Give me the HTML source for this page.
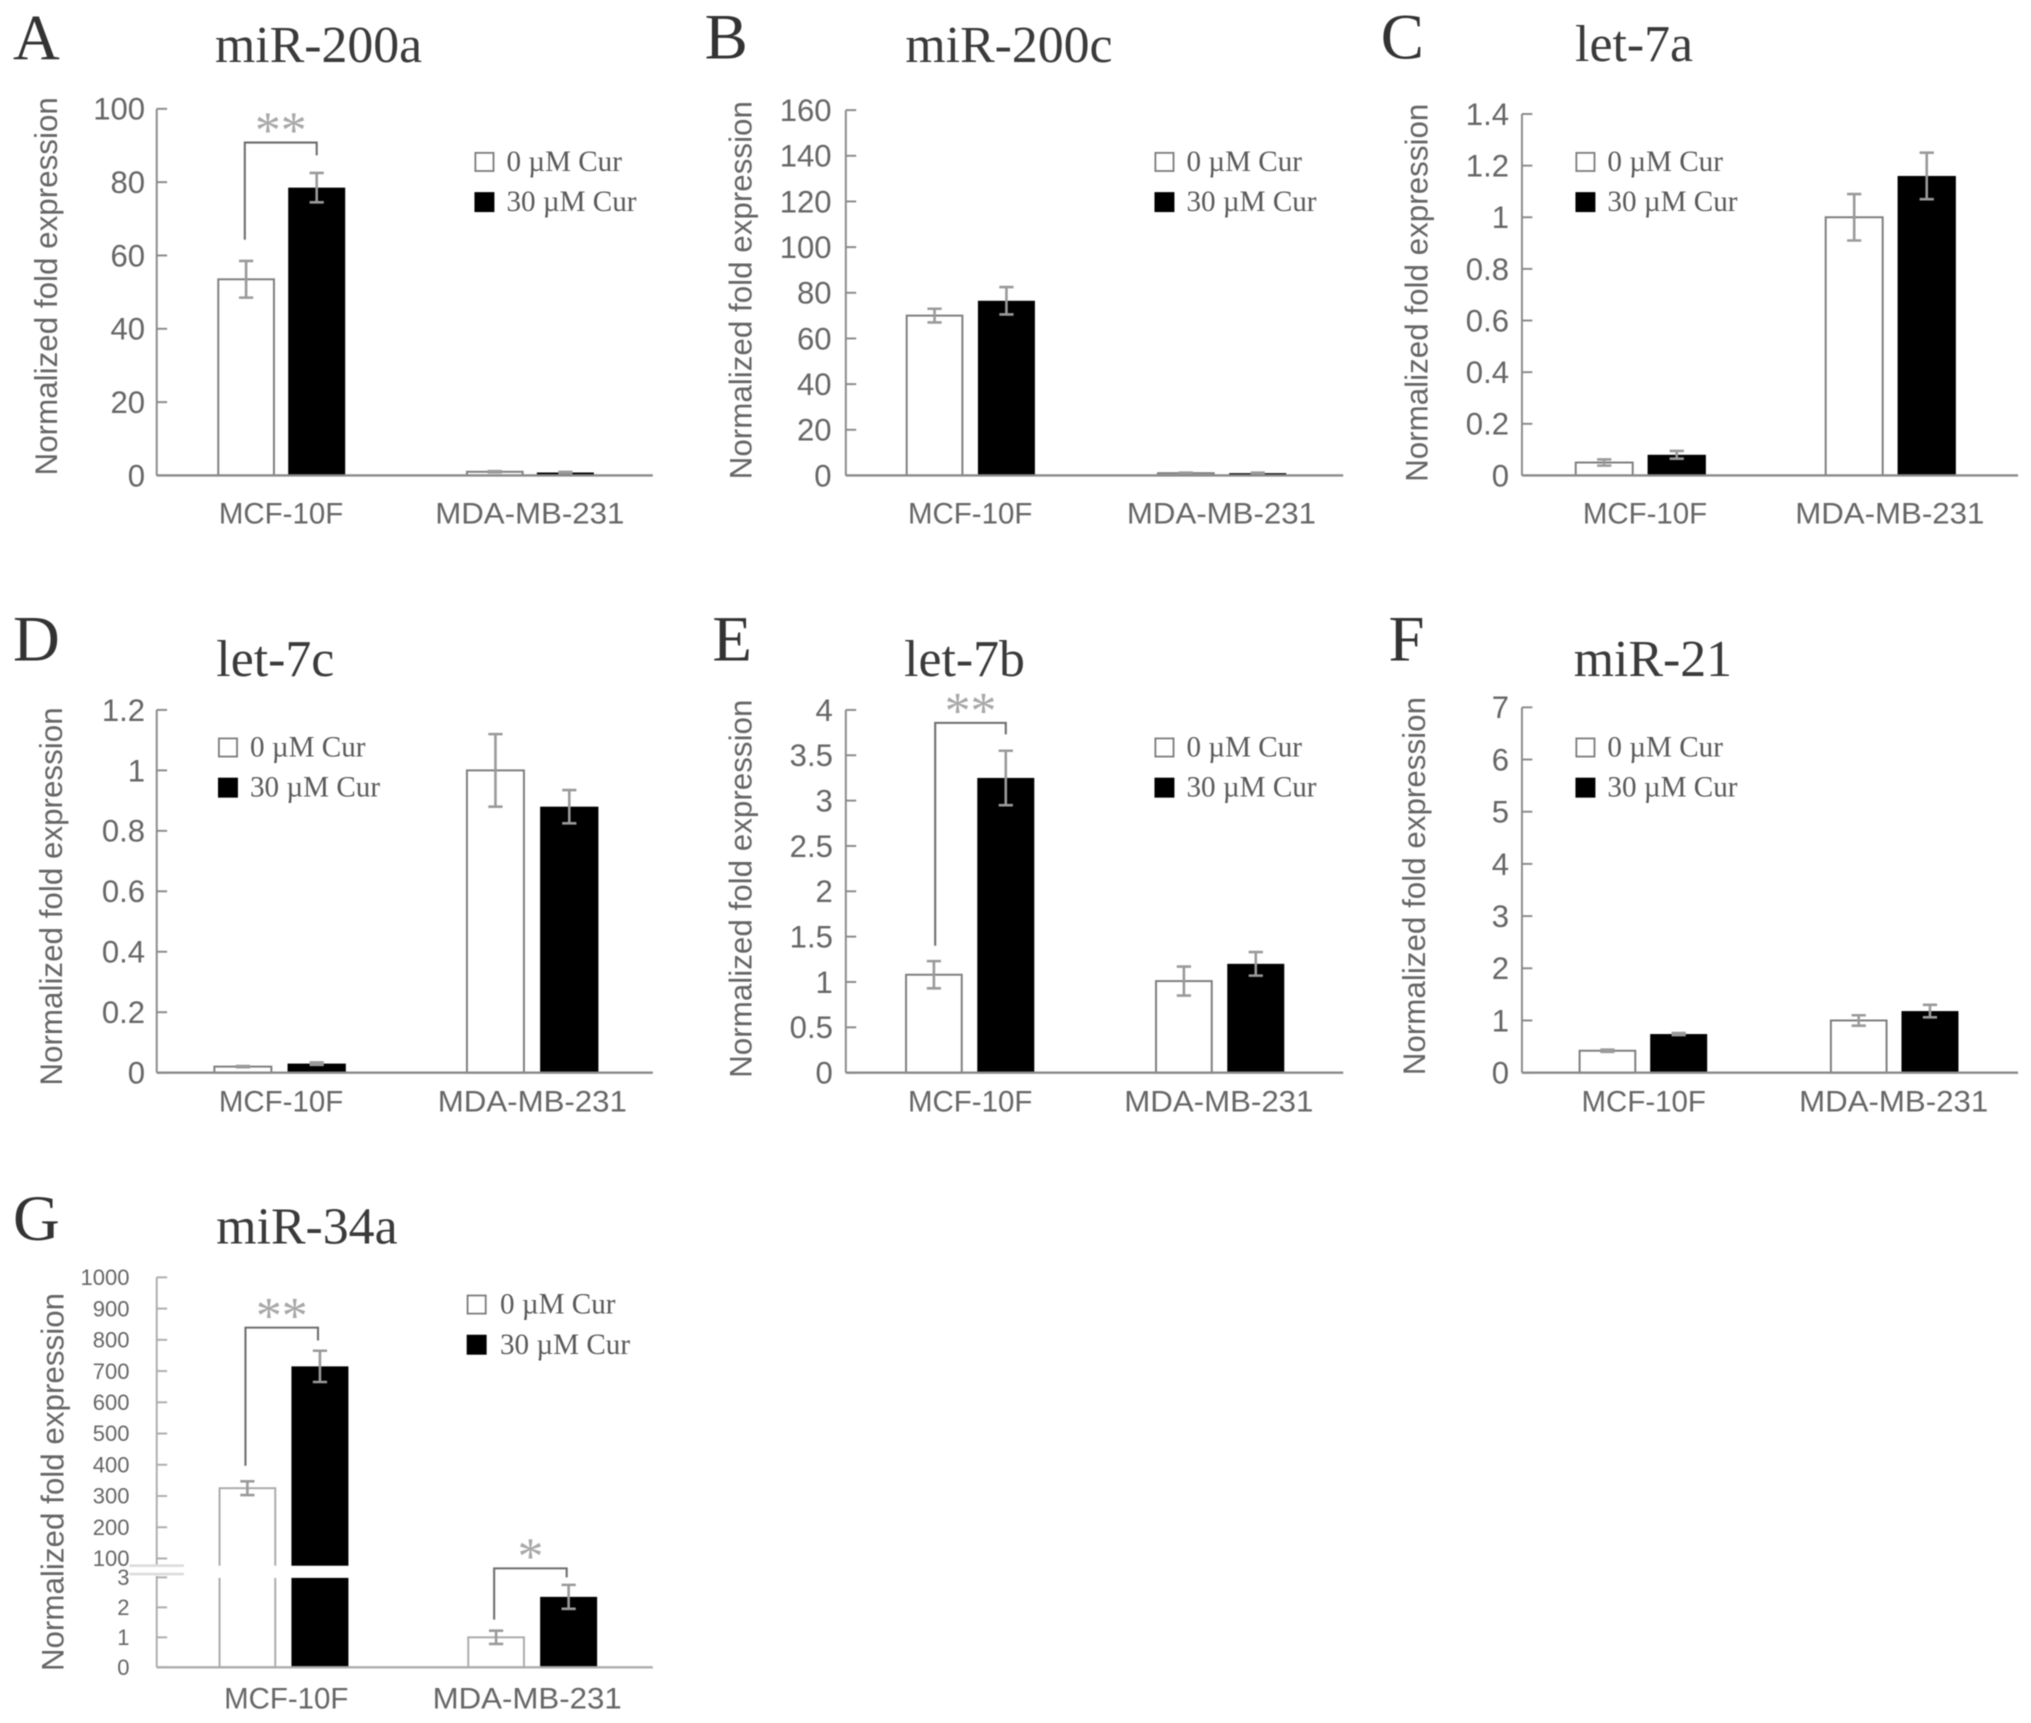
<!DOCTYPE html>
<html lang="en">
<head>
<meta charset="utf-8">
<title>miRNA normalized fold expression panels</title>
<style>
html,body{margin:0;padding:0;background:#fff;}
svg{display:block;filter:blur(0.5px);}
text{font-family:"Liberation Sans",sans-serif;}
.serif{font-family:"Liberation Serif",serif;}
</style>
</head>
<body>
<svg id="figure" width="2031" height="1723" viewBox="0 0 1568 1330" preserveAspectRatio="none" xmlns="http://www.w3.org/2000/svg">
<rect x="0" y="0" width="1568" height="1330" fill="#ffffff"/>
</svg>
<script>
const categories = ['MCF-10F', 'MDA-MB-231'];
const seriesLabels = ['0 \u00B5M Cur', '30 \u00B5M Cur'];

const aTicks = [0, 20, 40, 60, 80, 100];
const aControl = [53.5, 1.0];
const aTreated = [78.5, 0.8];
const aControlErr = [5, 0.15];
const aTreatedErr = [4, 0.15];
const aBrackets = [[0, 64.3, 90.8, 87.3, '**']];

const bTicks = [0, 20, 40, 60, 80, 100, 120, 140, 160];
const bControl = [70, 1.0];
const bTreated = [76.5, 1.0];
const bControlErr = [3, 0.2];
const bTreatedErr = [6, 0.2];
const bBrackets = [];

const cTicks = [0, 0.2, 0.4, 0.6, 0.8, 1, 1.2, 1.4];
const cControl = [0.05, 1.0];
const cTreated = [0.08, 1.16];
const cControlErr = [0.012, 0.09];
const cTreatedErr = [0.015, 0.09];
const cBrackets = [];

const dTicks = [0, 0.2, 0.4, 0.6, 0.8, 1, 1.2];
const dControl = [0.02, 1.0];
const dTreated = [0.03, 0.88];
const dControlErr = [0.002, 0.12];
const dTreatedErr = [0.004, 0.055];
const dBrackets = [];

const eTicks = [0, 0.5, 1, 1.5, 2, 2.5, 3, 3.5, 4];
const eControl = [1.08, 1.01];
const eTreated = [3.25, 1.2];
const eControlErr = [0.15, 0.16];
const eTreatedErr = [0.3, 0.13];
const eBrackets = [[0, 1.4, 3.857, 3.73, '**']];

const fTicks = [0, 1, 2, 3, 4, 5, 6, 7];
const fControl = [0.42, 1.0];
const fTreated = [0.74, 1.18];
const fControlErr = [0.02, 0.1];
const fTreatedErr = [0.02, 0.12];
const fBrackets = [];

const gTicks = [0, 1, 2, 3, 100, 200, 300, 400, 500, 600, 700, 800, 900, 1000];
const gControl = [325, 1.0];
const gTreated = [715, 2.35];
const gControlErr = [22, 0.22];
const gTreatedErr = [50, 0.4];
const gBrackets = [[0, 397, 839, 798, '**'], [1, 1.59, 3.3, 3.0, '*']];

const panelLayouts = [
  {id:'a', letter:'A', title:'miR-200a', ticks:aTicks, control:aControl, treated:aTreated, controlErr:aControlErr, treatedErr:aTreatedErr, brackets:aBrackets,
   x0:121, x1:504, yBase:367, yTop:84, barX:168, groupStep:192, barStep:54.5, barW:44, letterX:10, letterY:46, titleX:166, titleY:48,
   yTitleX:36, yTitleTop:75, legendX:367, legendTextX:391, legendY:118, labelRight:112, catCenters:[217, 409], catY:404},
  {id:'b', letter:'B', title:'miR-200c', ticks:bTicks, control:bControl, treated:bTreated, controlErr:bControlErr, treatedErr:bTreatedErr, brackets:bBrackets,
   x0:653, x1:1037, yBase:367, yTop:85, barX:699.5, groupStep:194, barStep:55.5, barW:44, letterX:544, letterY:45, titleX:699, titleY:48,
   yTitleX:572, yTitleTop:78, legendX:892, legendTextX:916, legendY:118, labelRight:642, catCenters:[749, 943], catY:404},
  {id:'c', letter:'C', title:'let-7a', ticks:cTicks, control:cControl, treated:cTreated, controlErr:cControlErr, treatedErr:cTreatedErr, brackets:cBrackets,
   x0:1175, x1:1558, yBase:367, yTop:88, barX:1216, groupStep:193, barStep:56, barW:45, letterX:1066, letterY:45, titleX:1216, titleY:47,
   yTitleX:1094, yTitleTop:80, legendX:1217, legendTextX:1241, legendY:118, labelRight:1165, catCenters:[1270, 1459], catY:404},
  {id:'d', letter:'D', title:'let-7c', ticks:dTicks, control:dControl, treated:dTreated, controlErr:dControlErr, treatedErr:dTreatedErr, brackets:dBrackets,
   x0:121, x1:504, yBase:828, yTop:548, barX:165, groupStep:195, barStep:57, barW:45, letterX:10, letterY:510, titleX:167, titleY:522,
   yTitleX:40, yTitleTop:546, legendX:169, legendTextX:193, legendY:570, labelRight:112, catCenters:[217, 411], catY:858},
  {id:'e', letter:'E', title:'let-7b', ticks:eTicks, control:eControl, treated:eTreated, controlErr:eControlErr, treatedErr:eTreatedErr, brackets:eBrackets,
   x0:653, x1:1037, yBase:828, yTop:548, barX:699, groupStep:193, barStep:55.5, barW:44, letterX:550, letterY:510, titleX:698, titleY:522,
   yTitleX:572, yTitleTop:540, legendX:892, legendTextX:916, legendY:570, labelRight:643, catCenters:[749, 941], catY:858, bracketLeftDx:1},
  {id:'f', letter:'F', title:'miR-21', ticks:fTicks, control:fControl, treated:fTreated, controlErr:fControlErr, treatedErr:fTreatedErr, brackets:fBrackets,
   x0:1175, x1:1558, yBase:828, yTop:546, barX:1219, groupStep:194, barStep:55, barW:44, letterX:1072, letterY:510, titleX:1215, titleY:522,
   yTitleX:1092, yTitleTop:538, legendX:1217, legendTextX:1241, legendY:570, labelRight:1165, catCenters:[1269, 1462], catY:858},
  {id:'g', letter:'G', title:'miR-34a', ticks:gTicks, control:gControl, treated:gTreated, controlErr:gControlErr, treatedErr:gTreatedErr, brackets:gBrackets,
   x0:121, x1:504, yBase:1287, yTop:986, barX:169, groupStep:192, barStep:56, barW:44, letterX:10, letterY:957, titleX:167, titleY:960,
   yTitleX:41, yTitleTop:998, legendX:361, legendTextX:386, legendY:1000, labelRight:100, catCenters:[221, 407], catY:1319,
   broken:{lowerMax:3, lowerTop:1217.6, upperMin:100, upperBase:1203, upperMax:1000, bandTop:1208.6, bandBottom:1218}, tickFont:17,
   axisColor:'#adadad', outlineColor:'#aaaaaa', bracketLeftDx:-1.5, bracketRightDx:-1.5}
];

const NS = 'http://www.w3.org/2000/svg';
const figure = document.getElementById('figure');
const AXIS = '#8a8a8a';
const OUTLINE = '#7d7d7d';
const TEXT = '#666666';
const ERR = '#9a9a9a';

function make(parent, tag, attrs, txt) {
  const el = document.createElementNS(NS, tag);
  for (const k in attrs) el.setAttribute(k, attrs[k]);
  if (txt !== undefined) el.textContent = txt;
  parent.appendChild(el);
  return el;
}

function yScale(p) {
  if (p.broken) {
    const b = p.broken;
    return function (v) {
      if (v <= 4) return p.yBase - (v / b.lowerMax) * (p.yBase - b.lowerTop);
      return b.upperBase - ((v - b.upperMin) / (b.upperMax - b.upperMin)) * (b.upperBase - p.yTop);
    };
  }
  const max = p.ticks[p.ticks.length - 1];
  return function (v) { return p.yBase - (v / max) * (p.yBase - p.yTop); };
}

function drawPanel(p) {
  const y = yScale(p);
  const axisColor = p.axisColor || AXIS;
  const outline = p.outlineColor || OUTLINE;
  const barLeft = function (g, s) { return p.barX + g * p.groupStep + s * p.barStep; };

  const panel = make(figure, 'g', {});
  
  

  const letter = make(panel, 'text', {x: p.letterX, y: p.letterY, 'class': 'serif', 'font-size': 50, fill: '#333'}, p.letter);
  
  

  const title = make(panel, 'text', {x: p.titleX, y: p.titleY, 'class': 'serif', 'font-size': 40, fill: '#3a3a3a'}, p.title);
  
  

  const yTitle = make(panel, 'text', {
    transform: 'translate(' + (p.yTitleX + 8) + ',' + (p.yTitleTop + 292) + ') rotate(-90)',
    'font-size': 24, fill: TEXT, textLength: 292, lengthAdjust: 'spacingAndGlyphs'
  }, 'Normalized fold expression');
  
  

  const bars = make(panel, 'g', {});
  
  
  categories.forEach(function (cat, g) {
    [p.control, p.treated].forEach(function (vals, s) {
      const top = y(vals[g]);
      const r = make(bars, 'rect', {
        x: s === 0 ? barLeft(g, s) + 0.5 : barLeft(g, s),
        y: top,
        width: s === 0 ? p.barW - 1 : p.barW,
        height: p.yBase - top,
        fill: s === 0 ? '#ffffff' : '#000000',
        stroke: s === 0 ? outline : 'none', 'stroke-width': 1.5
      });
      
      
    });
  });

  if (p.broken) {
    const band = make(panel, 'rect', {x: 100, y: p.broken.bandTop, width: 370, height: p.broken.bandBottom - p.broken.bandTop, fill: '#ffffff'});
    
    
  }

  const errs = make(panel, 'g', {stroke: ERR, 'stroke-width': 2, fill: 'none'});
  
  
  categories.forEach(function (cat, g) {
    [[p.control, p.controlErr], [p.treated, p.treatedErr]].forEach(function (pair, s) {
      const v = pair[0][g], e = pair[1][g];
      const cx = barLeft(g, s) + p.barW / 2;
      const yHi = y(v + e), yLo = y(v - e);
      const d = 'M' + (cx - 5.5) + ' ' + yHi + 'H' + (cx + 5.5) + 'M' + cx + ' ' + yHi + 'V' + yLo + 'M' + (cx - 5.5) + ' ' + yLo + 'H' + (cx + 5.5);
      const path = make(errs, 'path', {d: d});
      
      
    });
  });

  const yAxis = make(panel, 'g', {});
  
  
  const spine = make(yAxis, 'line', {x1: p.x0, x2: p.x0, y1: p.yTop, y2: p.yBase, stroke: axisColor, 'stroke-width': 1.5});
  
  
  const fs = p.tickFont || 24;
  p.ticks.forEach(function (t) {
    const ty = y(t);
    const tick = make(yAxis, 'line', {x1: p.x0, x2: p.x0 + 8, y1: ty, y2: ty, stroke: axisColor, 'stroke-width': 1.5});
    
    
    const lab = make(yAxis, 'text', {x: p.labelRight, y: ty + fs * 0.35, 'text-anchor': 'end', 'font-size': fs, fill: TEXT}, String(t));
    
    
  });

  const xAxis = make(panel, 'line', {x1: p.x0, x2: p.x1, y1: p.yBase, y2: p.yBase, stroke: axisColor, 'stroke-width': 1.8});
  
  

  categories.forEach(function (cat, g) {
    const lab = make(panel, 'text', {
      x: p.catCenters[g], y: p.catY, 'text-anchor': 'middle', 'font-size': 23, fill: TEXT,
      textLength: g === 0 ? 96 : 146, lengthAdjust: 'spacingAndGlyphs'
    }, cat);
    
    
  });

  if (p.broken) {
    const gap = make(panel, 'rect', {x: p.x0 - 3, y: p.broken.bandTop, width: 6, height: p.broken.bandBottom - p.broken.bandTop - 1.5, fill: '#ffffff'});
    
    
    [p.broken.bandTop, p.broken.bandBottom - 3].forEach(function (ly) {
      const mark = make(panel, 'line', {x1: 100, x2: 142, y1: ly, y2: ly, stroke: '#dcdcdc', 'stroke-width': 2});
      
      
    });
  }

  p.brackets.forEach(function (b) {
    const g = b[0];
    const lx = barLeft(g, 0) + p.barW / 2 + (p.bracketLeftDx === undefined ? -1 : p.bracketLeftDx);
    const rx = barLeft(g, 1) + p.barW / 2 + (p.bracketRightDx || 0);
    const topY = y(b[2]);
    const br = make(panel, 'path', {
      d: 'M' + lx + ' ' + y(b[1]) + 'V' + topY + 'H' + rx + 'V' + y(b[3]),
      fill: 'none', stroke: '#6e6e6e', 'stroke-width': 1.6
    });
    
    
    const st = make(panel, 'text', {
      x: (lx + rx) / 2, y: topY + 4, 'text-anchor': 'middle', 'class': 'serif', 'font-size': 40, fill: '#a8a8a8'
    }, b[4]);
    
    
  });

  const legend = make(panel, 'g', {});
  
  
  seriesLabels.forEach(function (label, s) {
    const ly = p.legendY + s * 31;
    const sw = make(legend, 'rect', {
      x: p.legendX, y: ly, width: 14, height: 14,
      fill: s === 0 ? '#ffffff' : '#000000', stroke: s === 0 ? '#7d7d7d' : '#000000', 'stroke-width': 1.4
    });
    
    
    const lt = make(legend, 'text', {x: p.legendTextX, y: ly + 14, 'class': 'serif', 'font-size': 22.5, fill: '#5a5a5a'}, label);
    
    
  });
}

panelLayouts.forEach(drawPanel);
</script>
</body>
</html>
